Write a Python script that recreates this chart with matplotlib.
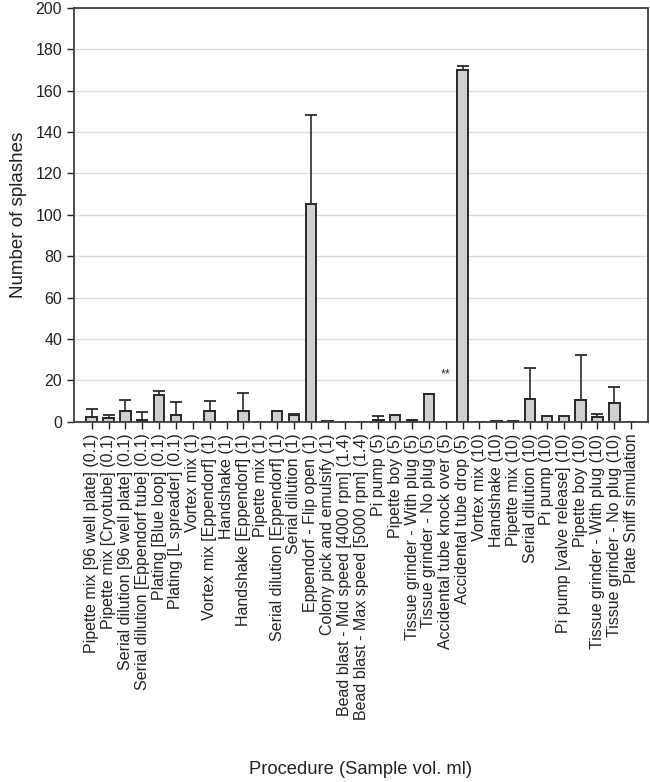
import numpy as np
import matplotlib
matplotlib.use("Agg")
import matplotlib.pyplot as plt

plt.rcParams['font.family'] = ['Liberation Sans', 'DejaVu Sans']

procedures = [
    "Pipette mix [96 well plate] (0.1)",
    "Pipette mix [Cryotube] (0.1)",
    "Serial dilution [96 well plate] (0.1)",
    "Serial dilution [Eppendorf tube] (0.1)",
    "Plating [Blue loop] (0.1)",
    "Plating [L spreader] (0.1)",
    "Vortex mix (1)",
    "Vortex mix [Eppendorf] (1)",
    "Handshake (1)",
    "Handshake [Eppendorf] (1)",
    "Pipette mix (1)",
    "Serial dilution [Eppendorf] (1)",
    "Serial dilution (1)",
    "Eppendorf - Flip open (1)",
    "Colony pick and emulsify (1)",
    "Bead blast - Mid speed [4000 rpm] (1.4)",
    "Bead blast - Max speed [5000 rpm] (1.4)",
    "Pi pump (5)",
    "Pipette boy (5)",
    "Tissue grinder - With plug (5)",
    "Tissue grinder - No plug (5)",
    "Accidental tube knock over (5)",
    "Accidental tube drop (5)",
    "Vortex mix (10)",
    "Handshake (10)",
    "Pipette mix (10)",
    "Serial dilution (10)",
    "Pi pump (10)",
    "Pi pump [valve release] (10)",
    "Pipette boy (10)",
    "Tissue grinder - With plug (10)",
    "Tissue grinder - No plug (10)",
    "Plate Sniff simulation",
]

# mean number of splashes
splashes = [2.4, 1.6, 5.3, 0.7, 13.1, 3.2, 0, 5.3, 0, 5.0, 0, 5.0, 3.2, 105.2,
            0.5, 0, 0, 0.8, 3.2, 0.8, 13.2, 0, 170.0, 0, 0.3, 0.3, 10.8, 2.8,
            2.8, 10.5, 2.1, 9.0, 0]
# upper error (SD)
err_upper = [3.9, 1.8, 5.0, 3.8, 1.9, 6.3, 0, 4.7, 0, 8.7, 0, 0, 0.3, 43.2,
             0, 0, 0, 2.1, 0, 0, 0.1, 0, 2.0, 0, 0, 0, 15.2, 0, 0, 21.9, 1.6,
             7.8, 0]

star_label = "**"
star_index = 21

x = np.arange(len(procedures))
vals = np.array(splashes)
errs = np.array(err_upper)

fig = plt.figure(figsize=(6.5, 7.82), dpi=100)
ax = fig.add_axes([0.1138, 0.4607, 0.997 - 0.1138, 0.9898 - 0.4607])

ax.bar(x, vals, width=0.62, color='#d0d0d0', edgecolor='#2a2a2a',
       linewidth=1.4, zorder=2)

m = errs > 0
ax.errorbar(x[m], vals[m], yerr=[np.zeros(m.sum()), errs[m]], fmt='none',
            ecolor='#2a2a2a', elinewidth=1.2, capsize=4.5, capthick=1.3,
            zorder=3)

ax.text(star_index, 20, star_label, ha='center', va='bottom', fontsize=9,
        color='#303030')

ax.set_xlim(-1.05, len(procedures))
ax.set_ylim(0, 200)
ax.set_yticks(np.arange(0, 201, 20))
ax.set_xticks(x)
ax.set_xticklabels(procedures, rotation=90, fontsize=11.5, color='#222222')
ax.tick_params(axis='y', labelsize=11.5, length=5, width=1, colors='#222222')
ax.tick_params(axis='x', length=5, width=1, colors='#222222')

ax.yaxis.grid(True, color='#dcdcdc', linewidth=1)
ax.set_axisbelow(True)

for s in ax.spines.values():
    s.set_color('#404040')
    s.set_linewidth(1.3)

ax.set_ylabel("Number of splashes", fontsize=13.5, color='#222222', labelpad=6)
ax.set_xlabel("Procedure (Sample vol. ml)", fontsize=13.2, color='#222222',
              labelpad=29)

fig.savefig("out.png", dpi=100)
